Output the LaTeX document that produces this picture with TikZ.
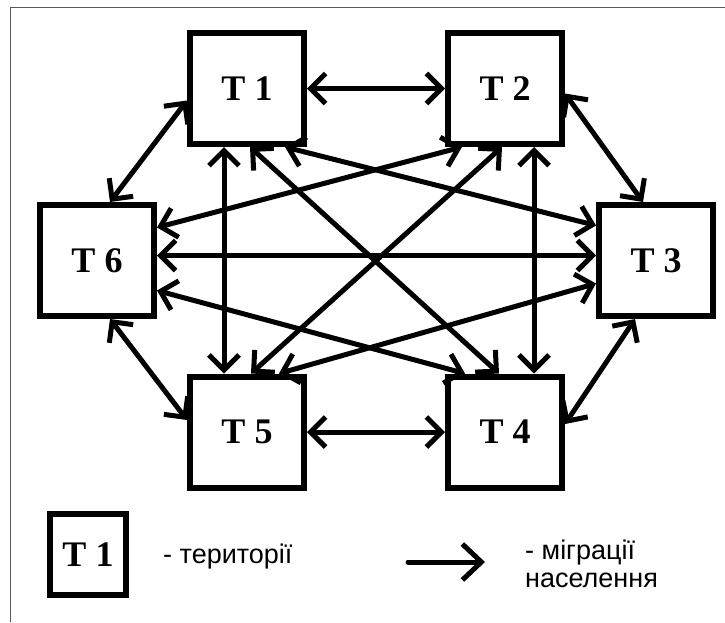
\documentclass[tikz,border=0pt]{standalone}
\usepackage{fontspec}
\setmainfont{Liberation Serif}
\newfontfamily\lsans{Liberation Sans}
\usetikzlibrary{arrows.meta}
\tikzset{
  terr/.style={draw, line width=6pt, minimum width=114pt, minimum height=111pt,
    inner sep=0pt, font=\fontsize{36}{40}\selectfont\bfseries},
  legterr/.style={draw, line width=6pt, minimum width=76pt, minimum height=81pt,
    inner sep=0pt, font=\fontsize{36}{40}\selectfont\bfseries},
  mig/.style={line width=5pt, line cap=round,
    arrows={Straight Barb[length=15pt,width=30pt]-Straight Barb[length=15pt,width=30pt]}},
  legmig/.style={line width=5pt, line cap=round,
    arrows={-Straight Barb[length=19pt,width=36pt]}},
  legtext/.style={inner sep=0pt, font=\lsans\fontsize{27}{29}\selectfont},
  frameline/.style={draw=black!65, line width=1pt}
}
\begin{document}
\begin{tikzpicture}[x=1pt,y=-1pt]
\useasboundingbox (0,0) rectangle (725,622);
% frame (top and left edges only)
\coordinate (fTR) at (725,7);
\coordinate (fTL) at (10,7);
\coordinate (fBL) at (10,622);
\draw[frameline] (fTR) -- (fTL) -- (fBL);

% territories
\node[terr] (T1) at (247,88.5) {T 1};
\node[terr] (T2) at (505,88.5) {T 2};
\node[terr] (T6) at (97,260.5) {T 6};
\node[terr] (T3) at (656,260.5) {T 3};
\node[terr] (T5) at (247,432) {T 5};
\node[terr] (T4) at (505,432) {T 4};

% migrations
\draw[mig] (T1.east) -- (T2.west);
\draw[mig] (T5.east) -- (T4.west);
\draw[mig] ([xshift=-23pt]T1.south) -- ([xshift=-23pt]T5.north);
\draw[mig] ([xshift=29pt]T2.south) -- ([xshift=29pt]T4.north);
\draw[mig] ([yshift=5pt]T6.east) -- ([yshift=5pt]T3.west);
\draw[mig] ([yshift=-12pt]T1.west) -- ([xshift=13pt]T6.north);
\draw[mig] ([yshift=-5pt]T2.east) -- ([xshift=-13pt]T3.north);
\draw[mig] ([xshift=13pt]T6.south) -- ([yshift=12pt]T5.west);
\draw[mig] ([yshift=8pt]T4.east) -- ([xshift=-21pt]T3.south);
\draw[mig] ([xshift=38pt]T1.south) -- ([yshift=35pt]T3.west);
\draw[mig] ([xshift=3pt]T1.south) -- ([xshift=-6pt]T4.north);
\draw[mig] ([yshift=33pt]T6.east) -- ([xshift=-43pt]T2.south);
\draw[mig] ([yshift=-30pt]T6.east) -- ([xshift=-40pt]T4.north);
\draw[mig] ([xshift=4pt]T5.north) -- ([xshift=-3pt]T2.south);
\draw[mig] ([xshift=32pt]T5.north) -- ([yshift=-23pt]T3.west);

% legend
\node[legterr] (L1) at (88,554.5) {T 1};
\node[legtext, anchor=base west] (Lt) at (163,563) {- території};
\coordinate (La) at (408,562);
\coordinate (Lb) at (485,562);
\draw[legmig] (La) -- (Lb);
\node[legtext, anchor=base west] (Lm1) at (525,559) {- міграції};
\node[legtext, anchor=base west] (Lm2) at (525,587) {населення};
\end{tikzpicture}
\end{document}
